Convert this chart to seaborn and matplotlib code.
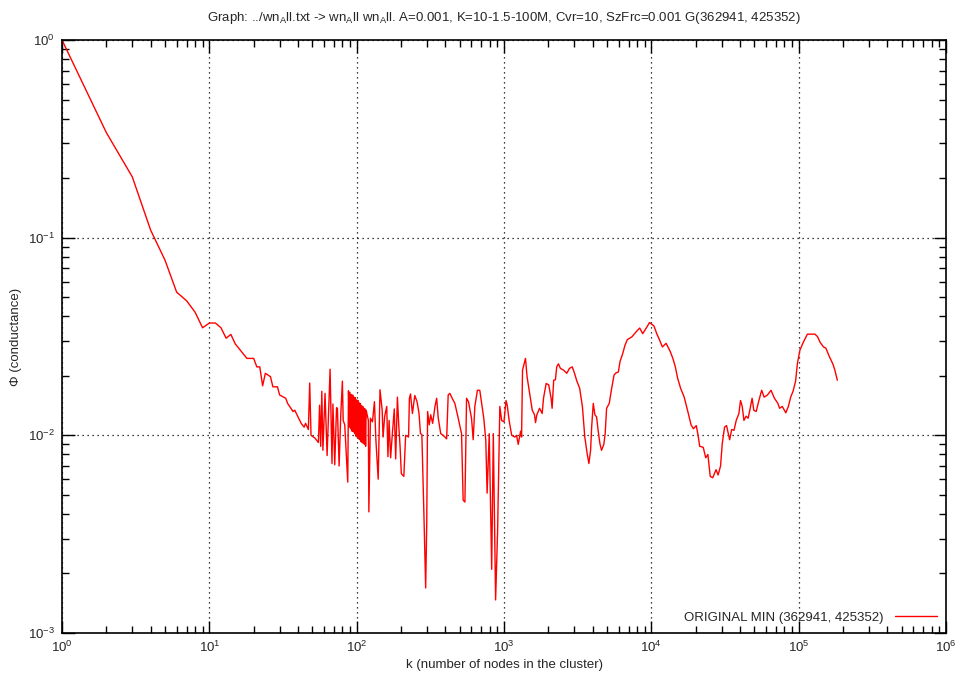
import matplotlib
matplotlib.use("Agg")
import matplotlib.pyplot as plt
import matplotlib.ticker as mticker
import seaborn as sns
import pandas as pd
import numpy as np

# ---- data ----
k_nodes = [1, 2, 3, 4, 5, 6, 7, 8, 9, 10, 11, 12, 13, 14, 15, 18, 20, 21, 22, 23, 24, 26, 27, 29, 30,
           33, 34, 37, 38, 42, 44, 45, 47, 48, 49, 52, 55, 56, 57, 58, 59, 61, 63, 66, 68, 69, 71, 73,
           74, 76, 78, 80, 81, 83, 87, 88,
           89, 90, 91, 92, 93, 94, 95, 96, 97, 98, 99, 100, 101, 102, 103, 104, 105, 106, 107, 108,
           109, 110, 111, 112, 113, 114, 115, 116,
           120, 121, 124, 128, 132, 135, 140, 144, 149, 151, 155, 160, 163, 166, 170, 174, 180, 184,
           189, 193, 197, 201, 209, 215, 225, 228, 232, 239, 248, 257, 265, 271, 277, 286, 294, 299,
           303, 311, 318, 328, 340, 349, 358, 372, 387, 408, 418, 429, 445, 464, 489, 515, 528, 543,
           557, 574, 602, 618, 634, 660, 685, 703, 729, 752, 768, 794, 825, 846, 877, 905, 937, 964,
           1000, 1032, 1052, 1083, 1128, 1185, 1217, 1249, 1296, 1316, 1336, 1399, 1434, 1493, 1555,
           1611, 1637, 1671, 1743, 1816, 1854, 1933, 2012, 2088, 2121, 2174, 2233, 2280, 2341, 2415,
           2533, 2668, 2780, 2904, 3011, 3123, 3262, 3405, 3535, 3667, 3768, 3870, 3935, 4035, 4140,
           4250, 4360, 4475, 4590, 4760, 4860, 4970, 5180, 5380, 5585, 5760, 5970, 6130, 6400, 6630,
           6875, 7380, 8000, 8340, 8740, 9370, 9720, 10060, 10430, 10880, 11340, 11880, 12600, 13420,
           14000, 14550, 15100, 15800, 16670, 17600, 18600, 19300, 20200, 20760, 21300, 22500, 23400,
           24200, 25100, 26100, 27500, 28400, 29500, 30300, 31400, 32400, 34000, 35100, 36400, 37700,
           39300, 40300, 41400, 42500, 44000, 45400, 46600, 48300, 49600, 51500, 53700, 56100, 58300,
           61400, 64900, 68500, 72300, 74200, 77400, 81800, 85100, 88500, 91600, 95300, 98000,
           102000, 107600, 114600, 120900, 128800, 134200, 140000, 147500, 153000, 161600, 170500,
           176000, 183000]
phi_min = [1.0, 0.34, 0.203, 0.109, 0.077, 0.053, 0.048, 0.042, 0.035, 0.037, 0.037, 0.035, 0.031,
           0.0324, 0.029, 0.0245, 0.0245, 0.0222, 0.0222, 0.0178, 0.0206, 0.0198, 0.0176, 0.0176,
           0.016, 0.0154, 0.0145, 0.0132, 0.0134, 0.0115, 0.011, 0.0115, 0.0107, 0.0184, 0.0100,
           0.0097, 0.0092, 0.0142, 0.0088, 0.0167, 0.0084, 0.0163, 0.0079, 0.0216, 0.0072, 0.0144,
           0.0071, 0.0138, 0.0137, 0.0070, 0.0127, 0.0188, 0.0119, 0.0113, 0.0058, 0.0168,
           0.0110, 0.0165, 0.0108, 0.0161, 0.0105, 0.0160, 0.0104, 0.0156, 0.0102, 0.0155, 0.0099,
           0.0151, 0.0098, 0.0150, 0.0096, 0.0146, 0.0095, 0.0145, 0.0093, 0.0141, 0.0092, 0.0140,
           0.0091, 0.0137, 0.0090, 0.0136, 0.0088, 0.0134,
           0.0119, 0.0041, 0.0122, 0.0117, 0.0148, 0.0095, 0.0060, 0.0170, 0.0134, 0.0098, 0.0125,
           0.0140, 0.0078, 0.0119, 0.0077, 0.0098, 0.0136, 0.0076, 0.0156, 0.0113, 0.0088, 0.0064,
           0.0062, 0.0100, 0.0098, 0.0154, 0.0162, 0.0129, 0.0159, 0.0148, 0.0129, 0.0102, 0.0101,
           0.0040, 0.00169, 0.0036, 0.0132, 0.0113, 0.0127, 0.0115, 0.0140, 0.0154, 0.0122, 0.0102,
           0.0100, 0.0096, 0.0160, 0.0163, 0.0154, 0.0145, 0.0122, 0.0102, 0.0047, 0.0046, 0.0154,
           0.0148, 0.0122, 0.0095, 0.0140, 0.0169, 0.0169, 0.0148, 0.0122, 0.0095, 0.0051, 0.0102,
           0.0021, 0.0102, 0.00147, 0.0033, 0.0140, 0.0119,
           0.0117, 0.0150, 0.0142, 0.0119, 0.0100, 0.0098, 0.0100, 0.0090, 0.0105, 0.0098, 0.0214,
           0.0245, 0.0198, 0.0163, 0.0134, 0.0127, 0.0116, 0.0127, 0.0137, 0.0129, 0.0154, 0.0183,
           0.0180, 0.0154, 0.0137, 0.0190, 0.0191, 0.0222, 0.0230, 0.0218, 0.0214, 0.0206, 0.0218,
           0.0222, 0.0206, 0.0188, 0.0173, 0.0140, 0.0098, 0.0081, 0.0072, 0.0084, 0.0110, 0.0145,
           0.0127, 0.0124, 0.0105, 0.0091, 0.0084, 0.0090, 0.0102, 0.0137, 0.0145, 0.0173, 0.0202,
           0.0207, 0.0209, 0.0236, 0.0260, 0.0286, 0.0305, 0.0315, 0.0338, 0.0349, 0.0327, 0.0355,
           0.0372, 0.0365, 0.0357, 0.0327, 0.0305, 0.0280, 0.0292, 0.0266, 0.0245, 0.0222, 0.0194,
           0.0173, 0.0157, 0.0134, 0.0113, 0.0108, 0.0112, 0.0100, 0.0088, 0.0087, 0.0077, 0.0080,
           0.0062, 0.0061, 0.0067, 0.0063, 0.0070, 0.0091, 0.0110, 0.0112, 0.0095, 0.0107, 0.0106,
           0.0119, 0.0129, 0.0150, 0.0140, 0.0119, 0.0125, 0.0122, 0.0134, 0.0154, 0.0134, 0.0132,
           0.0150, 0.0169, 0.0156, 0.0160, 0.0169, 0.0154, 0.0145, 0.0137, 0.0140, 0.0130, 0.0140,
           0.0157, 0.0167, 0.0188, 0.0230, 0.0270, 0.0296, 0.0325, 0.0325, 0.0325, 0.0316, 0.0295,
           0.0280, 0.0276, 0.0250, 0.0230, 0.0214, 0.0190]

series_label = "ORIGINAL MIN (362941, 425352)"
title_text = ("Graph: ../wn$_{A}$ll.txt -> wn$_{A}$ll wn$_{A}$ll. A=0.001, K=10-1.5-100M, "
              "Cvr=10, SzFrc=0.001 G(362941, 425352)")
x_label = "k (number of nodes in the cluster)"
y_label = "\u03a6 (conductance)"
x_decades = [0, 1, 2, 3, 4, 5, 6]
y_decades = [-3, -2, -1, 0]

df = pd.DataFrame({"k": k_nodes, "phi": phi_min})

sns.set_theme(style="white")
plt.rcParams["font.family"] = ["Liberation Sans", "DejaVu Sans"]
plt.rcParams["mathtext.fontset"] = "custom"
plt.rcParams["mathtext.rm"] = "Liberation Sans"
plt.rcParams["mathtext.it"] = "Liberation Sans"
plt.rcParams["mathtext.default"] = "regular"

fig = plt.figure(figsize=(9.57, 6.73), dpi=100)
ax = fig.add_axes([62 / 957, 1 - 633 / 673, (946 - 62) / 957, (633 - 40) / 673])

sns.lineplot(data=df, x="k", y="phi", ax=ax, color="#ff0000", linewidth=1.0,
             estimator=None, sort=False, label=series_label)

ax.set_xscale("log")
ax.set_yscale("log")
ax.set_xlim(1, 1e6)
ax.set_ylim(1e-3, 1)

xmaj = [10.0 ** d for d in x_decades]
ymaj = [10.0 ** d for d in y_decades]
xmin = [m * 10.0 ** d for d in x_decades[:-1] for m in range(2, 10)]
ymin = [m * 10.0 ** d for d in y_decades[:-1] for m in range(2, 10)]
ax.xaxis.set_major_locator(mticker.FixedLocator(xmaj))
ax.yaxis.set_major_locator(mticker.FixedLocator(ymaj))
ax.xaxis.set_major_formatter(mticker.FixedFormatter([f"$10^{{{d}}}$" for d in x_decades]))
ax.yaxis.set_major_formatter(mticker.FixedFormatter([f"$10^{{{d}}}$" for d in y_decades]))
ax.xaxis.set_minor_locator(mticker.FixedLocator(xmin))
ax.yaxis.set_minor_locator(mticker.FixedLocator(ymin))
ax.xaxis.set_minor_formatter(mticker.NullFormatter())
ax.yaxis.set_minor_formatter(mticker.NullFormatter())

ax.tick_params(which="both", direction="in", top=True, right=True, bottom=True, left=True,
               color="black")
ax.tick_params(which="major", length=9, width=1.0, labelsize=9.5, pad=5)
ax.tick_params(which="minor", length=5, width=1.0)

for s in ax.spines.values():
    s.set_color("black")
    s.set_linewidth(1.2)

ax.grid(True, which="major", linestyle=(0, (1, 3)), color="black", linewidth=0.9)

ax.set_title(title_text, fontsize=9.5, pad=14)
ax.set_xlabel(x_label, fontsize=9.5, labelpad=3)
ax.set_ylabel(y_label, fontsize=9.5, labelpad=4)

leg = ax.legend(loc="lower right", frameon=False, markerfirst=False, fontsize=9.5,
                handlelength=3.2, borderaxespad=0.3, handletextpad=0.8)

fig.savefig("out.png", dpi=100)
